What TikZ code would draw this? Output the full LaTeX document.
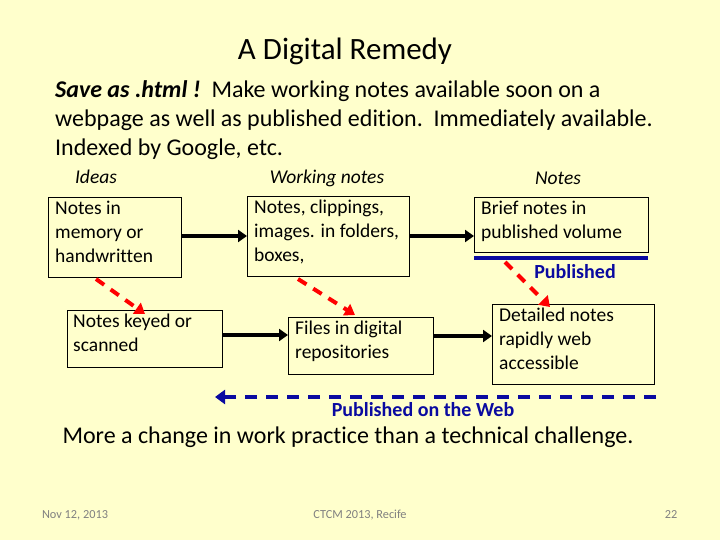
\documentclass[tikz,border=0pt]{standalone}
\usepackage{fontspec}
\setmainfont{Carlito}[Ligatures=NoCommon]
\usetikzlibrary{arrows.meta}
\definecolor{bg}{HTML}{FFFFCC}
\definecolor{pub}{HTML}{0A0AA0}
\begin{document}
\begin{tikzpicture}[x=1pt,y=-1pt,
  btxt/.style={anchor=north west,align=left,font=\fontsize{19.5}{24}\selectfont,inner sep=0pt},
  blk/.style={line width=4pt,-{Triangle[length=9pt,width=12pt]}},
  red/.style={draw=red,line width=4pt,dash pattern=on 10pt off 8pt,-{Triangle[length=10pt,width=13pt]}},
  hdr/.style={font=\itshape\fontsize{19.5}{22}\selectfont}]
\fill[bg] (0,0) rectangle (720,540);
\useasboundingbox (0,0) rectangle (720,540);
\node[font=\fontsize{31}{34}\selectfont] (title) at (345,51) {A Digital Remedy};
\node[anchor=west,align=left,font=\fontsize{24}{29}\selectfont,inner sep=0pt] (para) at (55,120)
 {\textbf{\textit{Save as .html !}}\ \ Make working notes available soon on a\\
  webpage as well as published edition.\ \ Immediately available.\\
  Indexed by Google, etc.};
\node[hdr] (h1) at (96,177) {Ideas};
\node[hdr] (h2) at (327,178) {Working notes};
\node[hdr] (h3) at (558,178) {Notes};
% boxes
\draw[fill=bg] (48,197) rectangle (181,277); \node[btxt] (A) at (55,201) {Notes in\\memory or\\handwritten};
\draw[fill=bg] (247,196) rectangle (409,276); \node[btxt] (B) at (254,200) {Notes, clippings,\\images. in folders,\\boxes,};
\draw[fill=bg] (474,197) rectangle (648,252); \node[btxt] (C) at (481,201) {Brief notes in\\published volume};
\draw[fill=bg] (67,310) rectangle (222,367); \node[btxt] (D) at (73,314) {Notes keyed or\\scanned};
\draw[fill=bg] (288,317) rectangle (433,374); \node[btxt] (E) at (295,321) {Files in digital\\repositories};
\draw[fill=bg] (492,304) rectangle (654,384); \node[btxt] (F) at (499,308) {Detailed notes\\rapidly web\\accessible};
\coordinate (a1) at (181,236); \coordinate (b1) at (247,236);
\coordinate (b2) at (409,236); \coordinate (c2) at (474,236);
\coordinate (d3) at (222,335); \coordinate (e3) at (288,335);
\coordinate (e4) at (433,336); \coordinate (f4) at (492,336);
\draw[blk] (a1) -- (b1);
\draw[blk] (b2) -- (c2);
\draw[blk] (d3) -- (e3);
\draw[blk] (e4) -- (f4);
\coordinate (r1s) at (96,279); \coordinate (r1e) at (145,314);
\coordinate (r2s) at (298,279); \coordinate (r2e) at (355,315);
\coordinate (r3s) at (505,262); \coordinate (r3e) at (550,307);
\draw[red] (r1s) -- (r1e);
\draw[red] (r2s) -- (r2e);
\draw[red] (r3s) -- (r3e);
\coordinate (p1) at (474,258); \coordinate (p2) at (648,258);
\draw[pub,line width=4pt] (p1) -- (p2);
\node[text=pub,font=\bfseries\fontsize{20}{22}\selectfont] (pl) at (575,272) {Published};
\coordinate (w1) at (656,397); \coordinate (w2) at (215,397);
\draw[pub,line width=4pt,dash pattern=on 12pt off 9pt,-{Triangle[length=10pt,width=14pt]}] (w1) -- (w2);
\node[text=pub,font=\bfseries\fontsize{20}{22}\selectfont] (wl) at (423,410) {Published on the Web};
\node[font=\fontsize{24}{27}\selectfont] (bot) at (348,437) {More a change in work practice than a technical challenge.};
\node[text=gray,font=\fontsize{12.3}{14}\selectfont] (f1) at (75,515) {Nov 12, 2013};
\node[text=gray,font=\fontsize{12.3}{14}\selectfont] (f2) at (360,515) {CTCM 2013, Recife};
\node[text=gray,font=\fontsize{12.3}{14}\selectfont] (f3) at (671,515) {22};
\end{tikzpicture}
\end{document}
